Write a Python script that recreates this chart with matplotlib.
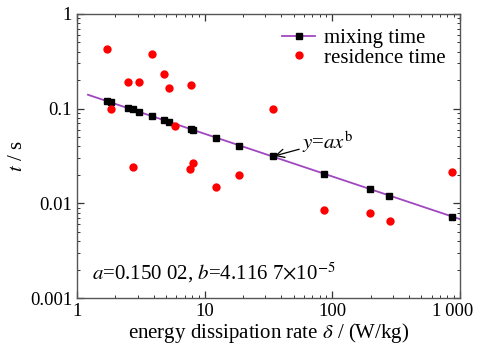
import numpy as np
import matplotlib
matplotlib.use("Agg")
import matplotlib.pyplot as plt
import matplotlib.transforms as mtransforms
from matplotlib.ticker import FixedLocator, FixedFormatter, LogLocator, NullFormatter

plt.rcParams['font.family'] = ['Liberation Serif', 'DejaVu Serif']
plt.rcParams['mathtext.fontset'] = 'stix'

# mixing time (black squares + power-law fit)
mix_x = [1.71, 1.84, 2.52, 2.73, 3.08, 3.84, 4.83, 5.25, 7.81, 8.05,
         12.25, 18.6, 34.5, 85.9, 199.5, 279, 875]
mix_t = [0.120, 0.117, 0.101, 0.098, 0.0916, 0.0837, 0.0754, 0.0718, 0.0615, 0.0601,
         0.0494, 0.0407, 0.0314, 0.0206, 0.0141, 0.0121, 0.00724]

# residence time (red dots)
res_x = [1.73, 1.84, 2.52, 3.08, 3.89, 4.83, 5.25, 5.89, 7.81, 34.5,
         2.76, 7.67, 8.05, 12.25, 18.7, 85.9, 199.5, 282, 875]
res_t = [0.424, 0.100, 0.193, 0.190, 0.375, 0.234, 0.167, 0.066, 0.178, 0.100,
         0.0244, 0.0231, 0.0265, 0.0149, 0.0198, 0.00845, 0.00792, 0.00652, 0.0216]

fit_range = [1.22, 1000]

x_ticks = [1, 10, 100, 1000]
x_labels = ['1', '10', '100', '1\u2009000']
y_ticks = [0.001, 0.01, 0.1, 1]
y_labels = ['0.001', '0.01', '0.1', '1']

# power-law fit in log space
b, loga = np.polyfit(np.log10(mix_x), np.log10(mix_t), 1)
fx = np.logspace(np.log10(fit_range[0]), np.log10(fit_range[1]), 50)
fy = 10 ** loga * fx ** b

fig = plt.figure(figsize=(4.78, 3.49), dpi=100)
ax = fig.add_axes([0.161, 0.146, 0.801, 0.814])

purple = '#a046c0'
ax.plot(fx, fy, color=purple, lw=1.3, zorder=2)
ax.plot(mix_x, mix_t, ls='none', marker='s', ms=5, color='black', zorder=3)
ax.plot(res_x, res_t, ls='none', marker='o', ms=6, color='#ff0000', mec='none', zorder=4)

# legend proxies
ax.plot([], [], color=purple, lw=1.3, marker='s', ms=5, mfc='black', mec='black',
        label='mixing time')
ax.plot([], [], ls='none', marker='o', ms=6, color='#ff0000', mec='none',
        label='residence time')
ax.legend(loc='upper right', frameon=False, fontsize=15, handlelength=1.6,
          handletextpad=0.4, labelspacing=0.0, borderaxespad=0.3,
          bbox_to_anchor=(1.0, 1.0))

ax.set_xscale('log')
ax.set_yscale('log')
ax.set_xlim(1, 1000)
ax.set_ylim(0.001, 1)

ax.xaxis.set_major_locator(FixedLocator(x_ticks))
ax.xaxis.set_major_formatter(FixedFormatter(x_labels))
ax.yaxis.set_major_locator(FixedLocator(y_ticks))
ax.yaxis.set_major_formatter(FixedFormatter(y_labels))
ax.xaxis.set_minor_locator(LogLocator(base=10, subs=np.arange(2, 10)))
ax.yaxis.set_minor_locator(LogLocator(base=10, subs=np.arange(2, 10)))
ax.xaxis.set_minor_formatter(NullFormatter())
ax.yaxis.set_minor_formatter(NullFormatter())

ax.tick_params(which='both', direction='in', top=True, right=True,
               labelsize=13.5, colors='#333333', labelcolor='black')
ax.tick_params(which='major', length=5, width=0.9)
ax.tick_params(which='minor', length=2.5, width=0.7)
for s in ax.spines.values():
    s.set_color('#555555')
    s.set_linewidth(1.0)

# keep the last x label ("1 000") inside the figure, like the original
last = ax.get_xticklabels()[-1]
last.set_horizontalalignment('right')
last.set_transform(last.get_transform() +
                   mtransforms.ScaledTranslation(0.13, 0, fig.dpi_scale_trans))

ax.set_xlabel(r'energy dissipation rate $\delta$ / (W/kg)', fontsize=15, labelpad=1)
ax.set_ylabel(r'$t$ / s', fontsize=15, labelpad=2)

ax.annotate(r'$y$=$ax^{\mathrm{b}}$', xy=(mix_x[12], mix_t[12]), xytext=(58, 0.045),
            fontsize=15, va='center',
            arrowprops=dict(arrowstyle='->', color='black', lw=0.9,
                            shrinkA=0, shrinkB=1))

ax.text(0.04, 0.065, r'$a$=0.150 02, $b$=4.116 7$\times$10$^{-5}$',
        transform=ax.transAxes, fontsize=15)

fig.savefig('out.png', dpi=100)
